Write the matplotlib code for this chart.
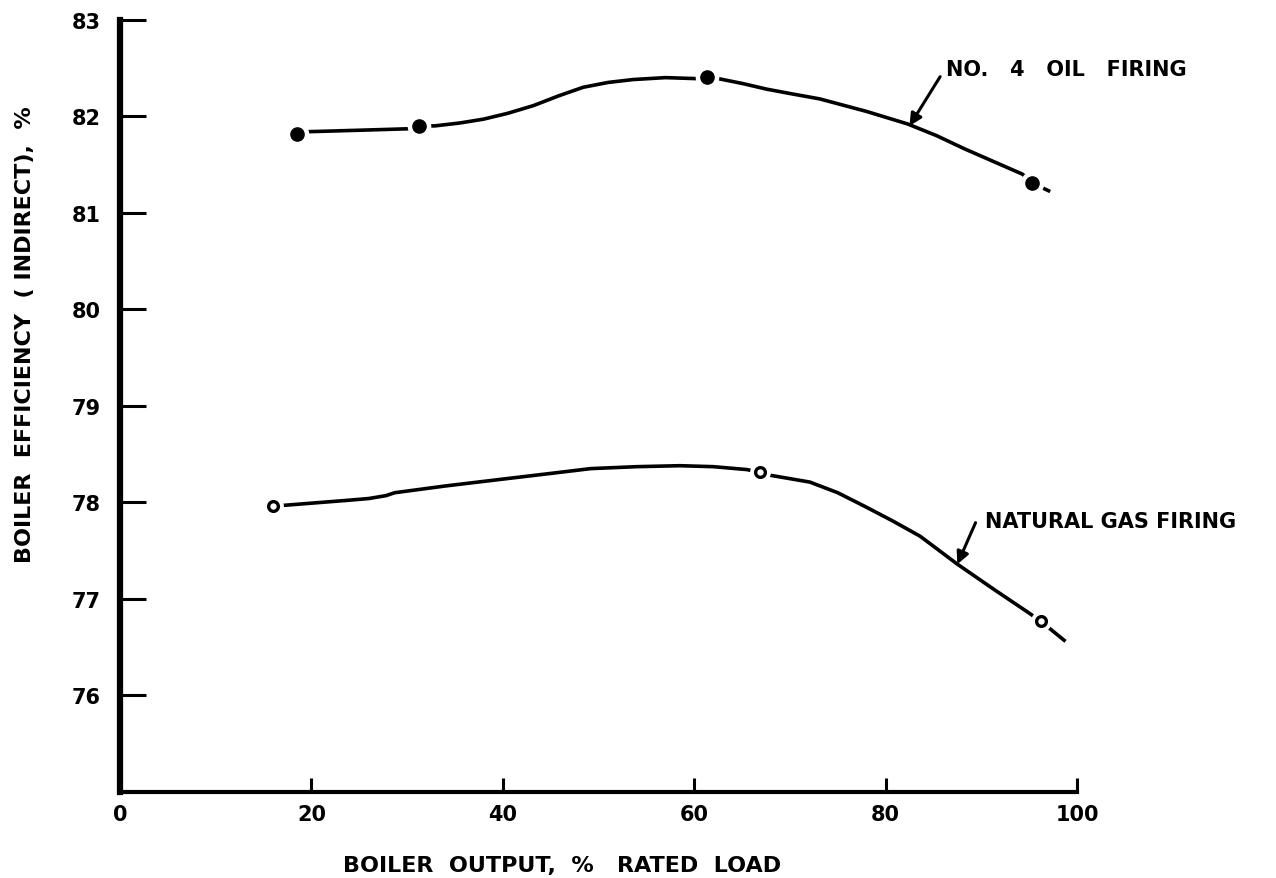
import matplotlib
matplotlib.use("Agg")
import matplotlib.pyplot as plt

# measured points
oil_load = [18.5, 31.2, 61.3, 95.3]
oil_eff = [81.82, 81.90, 82.41, 81.31]
gas_load = [16.0, 66.9, 96.2]
gas_eff = [77.96, 78.31, 76.77]

# hand-drawn fairing curves
oil_curve_x = [18.5, 19.7, 25.0, 30.1, 31.2, 32.9, 35.5, 38.0, 40.5, 43.2, 45.8, 48.4, 51.0,
               53.6, 57.0, 60.1, 61.3, 62.5, 65.0, 67.6, 70.3, 73.1, 78.0, 82.3, 85.3,
               88.3, 91.3, 94.3, 95.3, 97.2]
oil_curve_y = [81.82, 81.84, 81.855, 81.87, 81.90, 81.90, 81.93, 81.97, 82.03, 82.11, 82.21,
               82.30, 82.35, 82.38, 82.40, 82.39, 82.40, 82.39, 82.34, 82.28, 82.23, 82.18,
               82.05, 81.92, 81.80, 81.66, 81.53, 81.40, 81.31, 81.22]
gas_curve_x = [16.0, 17.2, 23.6, 26.0, 27.8, 28.7, 34.0, 39.9, 45.0, 49.2, 54.0, 58.5,
               62.0, 65.5, 66.9, 68.0, 72.1, 75.0, 77.8, 80.7, 83.6, 87.5, 91.3, 94.9,
               96.2, 98.8]
gas_curve_y = [77.96, 77.97, 78.02, 78.04, 78.07, 78.10, 78.17, 78.24, 78.30, 78.35, 78.37,
               78.38, 78.37, 78.34, 78.31, 78.28, 78.21, 78.10, 77.96, 77.81, 77.65, 77.36,
               77.10, 76.86, 76.77, 76.56]

x_ticks = [0, 20, 40, 60, 80, 100]
y_ticks = [76, 77, 78, 79, 80, 81, 82, 83]

plt.rcParams['font.family'] = ['DejaVu Sans']
plt.rcParams['font.weight'] = 'bold'

fig = plt.figure(figsize=(12.76, 8.79), dpi=100)
ax = fig.add_axes([120 / 1276, 86 / 879, 957 / 1276, 772.3 / 879])

lw = 2.6
ax.plot(oil_curve_x, oil_curve_y, color='black', lw=lw, solid_capstyle='butt',
        solid_joinstyle='round', zorder=2)
ax.plot(gas_curve_x, gas_curve_y, color='black', lw=lw, solid_capstyle='butt',
        solid_joinstyle='round', zorder=2)

# white halo around the points, then the points themselves
ax.plot(oil_load, oil_eff, 'o', ms=17, mfc='white', mec='none', zorder=3)
ax.plot(oil_load, oil_eff, 'o', ms=9.5, mfc='black', mec='black', zorder=4)
ax.plot(gas_load, gas_eff, 'o', ms=15, mfc='white', mec='none', zorder=3)
ax.plot(gas_load, gas_eff, 'o', ms=7, mfc='white', mec='black', mew=2.4, zorder=4)

ax.set_xlim(0, 100)
ax.set_ylim(75, 83)
ax.set_xticks(x_ticks)
ax.set_yticks(y_ticks)
ax.set_xticklabels([str(t) for t in x_ticks], fontsize=15, fontweight='bold')
ax.set_yticklabels([str(t) for t in y_ticks], fontsize=15, fontweight='bold')

for s in ['top', 'right']:
    ax.spines[s].set_visible(False)
ax.spines['left'].set_linewidth(4.5)
ax.spines['bottom'].set_linewidth(3)
ax.tick_params(axis='y', direction='in', length=19, width=2.2, pad=14)
ax.tick_params(axis='x', direction='in', length=10, width=2.2, pad=9)

arrow = dict(arrowstyle='-|>', color='black', lw=2.2, mutation_scale=18, shrinkA=0, shrinkB=0)
ax.annotate('', xy=(82.5, 81.90), xytext=(85.7, 82.41), arrowprops=arrow)
ax.text(86.3, 82.49, 'NO.   4   OIL   FIRING', fontsize=15, fontweight='bold',
        ha='left', va='center', clip_on=False)
ax.annotate('', xy=(87.5, 77.36), xytext=(89.4, 77.79), arrowprops=arrow)
ax.text(90.4, 77.81, 'NATURAL GAS FIRING', fontsize=15, fontweight='bold',
        ha='left', va='center', clip_on=False)

fig.text(562 / 1276, 1 - 866 / 879, 'BOILER  OUTPUT,  %   RATED  LOAD', fontsize=16,
         fontweight='bold', ha='center', va='center')
fig.text(25 / 1276, 1 - 335 / 879, 'BOILER  EFFICIENCY  ( INDIRECT),  %', fontsize=16,
         fontweight='bold', ha='center', va='center', rotation=90)

fig.savefig('out.png', dpi=100)
